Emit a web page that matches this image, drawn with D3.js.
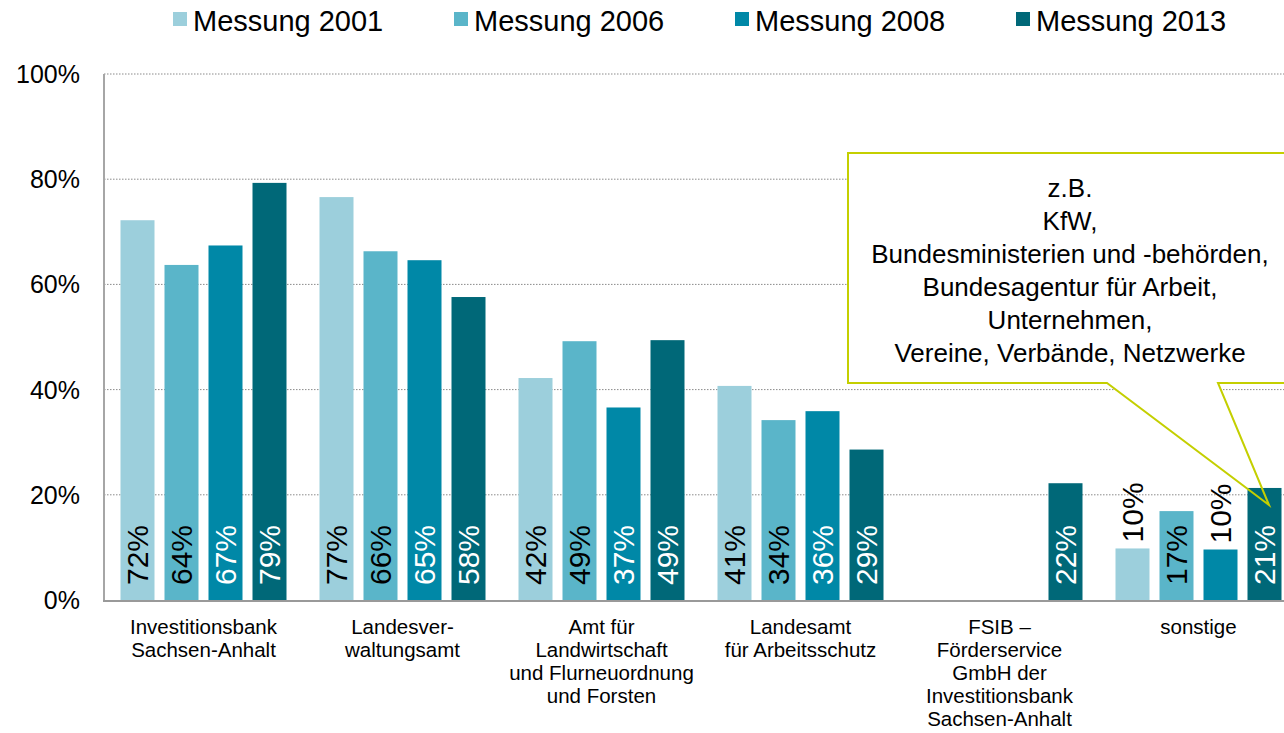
<!DOCTYPE html>
<html><head><meta charset="utf-8">
<script src="https://cdn.jsdelivr.net/npm/d3@7"></script>
<style>html,body{margin:0;padding:0;background:#fff;overflow:hidden}svg{display:block;font-family:"Liberation Sans",Arial,sans-serif}</style>
</head><body>
<svg id="c" width="1284" height="733"></svg>
<script>
const categories = [
  ["Investitionsbank","Sachsen-Anhalt"],
  ["Landesver-","waltungsamt"],
  ["Amt für","Landwirtschaft","und Flurneuordnung","und Forsten"],
  ["Landesamt","für Arbeitsschutz"],
  ["FSIB –","Förderservice","GmbH der","Investitionsbank","Sachsen-Anhalt"],
  ["sonstige"]
];
const seriesNames = ["Messung 2001","Messung 2006","Messung 2008","Messung 2013"];
const v2001 = [72.2, 76.6, 42.2, 40.7, null, 9.8];
const v2006 = [63.7, 66.3, 49.2, 34.2, null, 16.9];
const v2008 = [67.4, 64.6, 36.6, 35.9, null, 9.6];
const v2013 = [79.3, 57.6, 49.4, 28.6, 22.2, 21.3];
const yTicks = [0, 20, 40, 60, 80, 100];
const calloutLines = ["z.B.","KfW,","Bundesministerien und -behörden,","Bundesagentur für Arbeit,","Unternehmen,","Vereine, Verbände, Netzwerke"];
const colors = ["#9ccfdc","#5ab5c9","#0088a7","#006878"];
const labelColors = ["#000","#000","#fff","#fff"];

(function() {
const series = [v2001, v2006, v2008, v2013];
const svg = d3.select("#c");
const pLeft = 104, pRight = 1298, pTop = 74, pBottom = 600;

const x0 = d3.scaleBand().domain(d3.range(categories.length)).range([pLeft, pRight]).paddingInner(0).paddingOuter(0);
const x1 = d3.scaleBand().domain(d3.range(series.length)).range([0, x0.bandwidth()]).paddingInner(10/44).paddingOuter(0.375);
const y = d3.scaleLinear().domain([0, 100]).range([pBottom, pTop]);

// gridlines
svg.append("g").selectAll("line").data(yTicks.filter(t => t > 0)).join("line")
  .attr("x1", pLeft).attr("x2", 1284).attr("y1", d => y(d)).attr("y2", d => y(d))
  .attr("stroke", "#8a8a8a").attr("stroke-width", 1).attr("stroke-dasharray", "1.5,1.5");

// y tick labels
svg.append("g").selectAll("text").data(yTicks).join("text")
  .attr("x", 80).attr("y", d => y(d)).attr("dy", "0.36em")
  .attr("text-anchor", "end").attr("font-size", 25).attr("fill", "#000")
  .text(d => d + "%");

// callout path
const cx0 = 848, cx1 = 1292, cy0 = 153, cy1 = 383;
const calloutPath = `M${cx0},${cy0}H${cx1}V${cy1}H1218L1269,505L1107,${cy1}H${cx0}Z`;
svg.append("path").attr("d", calloutPath).attr("fill", "#fff");

// bars
const flat = [];
series.forEach((s, si) => s.forEach((v, ci) => { if (v != null) flat.push({si, ci, v}); }));
const fs = 30;
svg.append("g").selectAll("rect").data(flat).join("rect")
  .attr("x", d => x0(d.ci) + x1(d.si)).attr("width", x1.bandwidth())
  .attr("y", d => y(d.v)).attr("height", d => y(0) - y(d.v))
  .attr("fill", d => colors[d.si]);

// bar labels
svg.append("g").selectAll("text").data(flat).join("text")
  .attr("transform", d => {
    const cx = x0(d.ci) + x1(d.si) + x1.bandwidth() / 2 + 0.358 * fs;
    const inside = (y(0) - y(d.v)) > 2.1 * fs;
    const sy = inside ? 585 : y(d.v) - 6;
    return `translate(${cx},${sy}) rotate(-90)`;
  })
  .attr("font-size", fs)
  .attr("fill", d => ((y(0) - y(d.v)) > 2.1 * fs) ? labelColors[d.si] : "#000")
  .text(d => Math.round(d.v) + "%");

// axes lines
svg.append("line").attr("x1", pLeft).attr("x2", pLeft).attr("y1", pTop).attr("y2", pBottom + 1)
  .attr("stroke", "#a6a6a6").attr("stroke-width", 2);
svg.append("line").attr("x1", pLeft - 1).attr("x2", 1284).attr("y1", pBottom + 1).attr("y2", pBottom + 1)
  .attr("stroke", "#999").attr("stroke-width", 2);

// x labels
const xl = svg.append("g").selectAll("text").data(categories).join("text")
  .attr("x", (d, i) => x0(i) + x0.bandwidth() / 2)
  .attr("y", 634).attr("text-anchor", "middle").attr("font-size", 20.5).attr("fill", "#000");
xl.selectAll("tspan").data(d => d).join("tspan")
  .attr("x", function() { return this.parentNode.getAttribute("x"); })
  .attr("dy", (d, i) => i === 0 ? 0 : 23).text(d => d);

// callout outline and text
svg.append("path").attr("d", calloutPath).attr("fill", "none").attr("stroke", "#c4cf00").attr("stroke-width", 2);
svg.append("g").selectAll("text").data(calloutLines).join("text")
  .attr("x", (cx0 + cx1) / 2).attr("y", (d, i) => 197 + i * 33)
  .attr("text-anchor", "middle").attr("font-size", 26).attr("fill", "#000").text(d => d);

// legend
const lx = [173, 454, 735, 1016];
const lg = svg.append("g").selectAll("g").data(seriesNames).join("g")
  .attr("transform", (d, i) => `translate(${lx[i]},0)`);
lg.append("rect").attr("x", 0).attr("y", 12).attr("width", 14).attr("height", 14).attr("fill", (d, i) => colors[i]);
lg.append("text").attr("x", 20).attr("y", 31).attr("font-size", 29).attr("fill", "#000").text(d => d);
})();
</script>
</body></html>
